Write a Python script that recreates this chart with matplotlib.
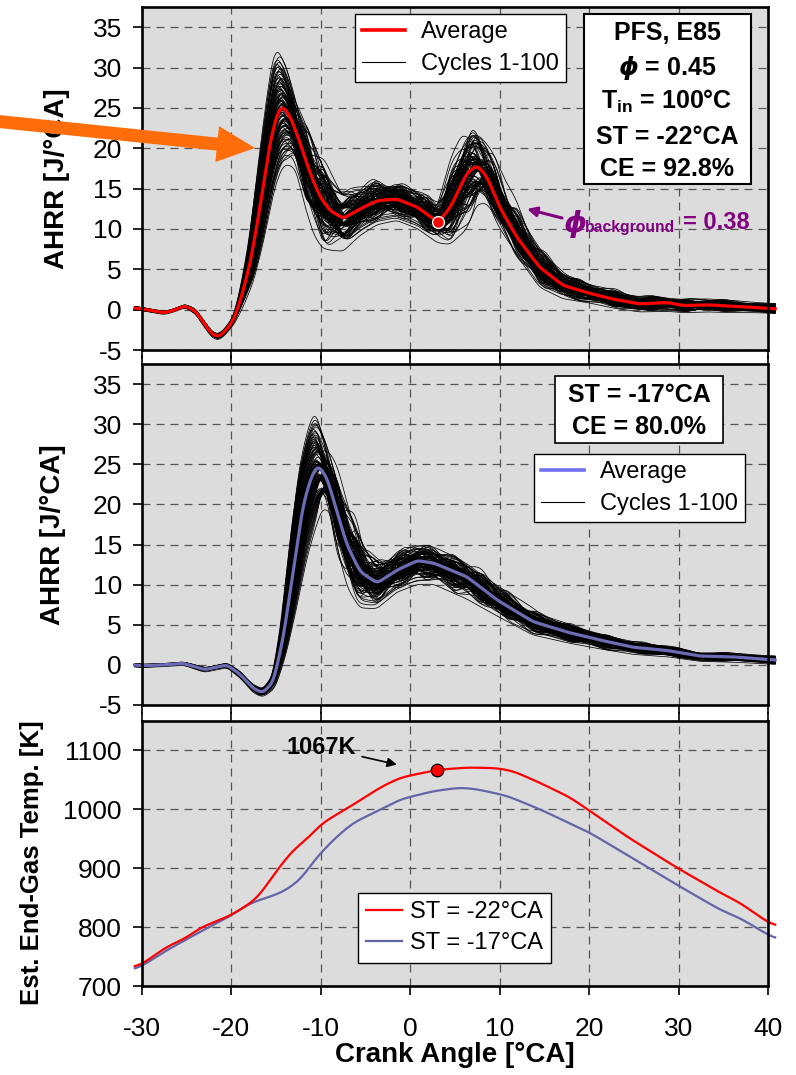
import numpy as np
import matplotlib
matplotlib.use('Agg')
import matplotlib.pyplot as plt
from matplotlib.patches import FancyArrow, Rectangle
from matplotlib.lines import Line2D
from matplotlib.transforms import IdentityTransform

plt.rcParams['font.family'] = ['Liberation Sans', 'DejaVu Sans']
plt.rcParams['axes.unicode_minus'] = False
plt.rcParams['mathtext.fontset'] = 'custom'
plt.rcParams['mathtext.rm'] = 'Liberation Sans:bold'
plt.rcParams['mathtext.bf'] = 'Liberation Sans:bold'
plt.rcParams['mathtext.sf'] = 'Liberation Sans:bold'
plt.rcParams['mathtext.it'] = 'DejaVu Sans:italic:bold'

# ---------------- data: panel 1 (ST = -22 CA) ----------------
crank1 = [-30.8, -30, -28.5, -27.6, -26.5, -25.2, -24.0, -23.0, -22.2, -21.5, -20.8, -19.8,
          -19.0, -17.9, -16.8, -15.7, -14.9, -14.3, -13.4, -12.3, -11.2, -10.1, -9.0, -7.5,
          -5.6, -3.7, -1.5, 0.8, 3.1, 4.5, 6.3, 7.5, 8.6, 10.0, 11.9, 14.5, 17.1, 19.8,
          22.7, 25.7, 28.7, 30.5, 33.2, 36.1, 38.0, 40.8]
avg1 = [0.2, 0.1, -0.2, -0.4, -0.1, 0.5, -0.2, -1.8, -3.0, -3.4, -2.8, -1.4,
        1.1, 5.7, 12.7, 20.6, 24.3, 25.3, 23.9, 20.6, 16.9, 14.0, 12.3, 11.3,
        12.5, 13.5, 13.7, 12.7, 10.8, 12.7, 16.9, 17.9, 16.4, 12.7, 9.0, 5.2, 3.0, 2.1,
        1.3, 0.7, 0.9, 0.5, 0.6, 0.4, 0.3, 0.1]
hi1 = [0.4, 0.3, 0.0, -0.2, 0.1, 0.7, 0.1, -1.4, -2.6, -3.0, -2.4, -0.9,
       2.1, 8.0, 16.5, 25.5, 31.0, 32.0, 30.0, 27.0, 23.5, 21.0, 18.0, 14.8,
       15.8, 16.5, 16.0, 15.2, 13.5, 18.0, 23.0, 23.0, 21.0, 17.0, 13.0, 7.8, 5.0, 3.5,
       2.6, 1.8, 1.8, 1.4, 1.4, 1.2, 1.0, 0.8]
lo1 = [0.0, -0.1, -0.4, -0.6, -0.3, 0.3, -0.5, -2.2, -3.4, -3.8, -3.2, -1.9,
       0.1, 3.6, 9.0, 15.5, 18.3, 18.7, 18.0, 13.5, 10.0, 8.2, 7.8, 7.6,
       9.5, 10.8, 11.3, 10.3, 8.5, 8.5, 10.5, 13.5, 13.5, 11.0, 7.0, 3.0, 1.5, 1.0,
       0.3, -0.2, -0.1, -0.3, -0.2, -0.3, -0.3, -0.4]

# ---------------- data: panel 2 (ST = -17 CA) ----------------
crank2 = [-30.8, -30, -27.5, -25.4, -23.0, -20.5, -19.0, -17.6, -16.5, -15.3, -14.2, -13.1,
          -12.0, -11.0, -10.3, -9.3, -8.2, -7.1, -5.6, -3.7, -1.5, 0.8, 2.6, 6.3, 9.7,
          13.7, 17.5, 21.2, 24.9, 28.7, 32.4, 36.1, 39.7, 40.8]
avg2 = [0.0, -0.1, 0.0, 0.2, -0.6, 0.0, -1.2, -2.9, -3.5, -2.1, 3.4, 11.6,
        19.9, 23.7, 24.9, 23.3, 19.1, 15.0, 11.6, 10.2, 11.8, 13.0, 12.7, 11.0, 8.1,
        5.4, 4.1, 3.1, 2.2, 1.8, 1.1, 1.0, 0.7, 0.6]
hi2 = [0.2, 0.1, 0.2, 0.4, -0.3, 0.3, -0.8, -2.4, -3.0, -1.3, 5.5, 16.0,
       25.0, 29.5, 31.3, 29.5, 25.5, 21.5, 16.5, 13.5, 14.5, 15.3, 15.0, 13.2, 10.2,
       6.9, 5.3, 4.1, 3.0, 2.5, 1.7, 1.5, 1.2, 1.1]
lo2 = [-0.2, -0.3, -0.2, 0.0, -0.9, -0.3, -1.6, -3.4, -4.0, -2.9, 1.5, 7.5,
       14.0, 18.0, 20.0, 19.5, 14.0, 10.0, 7.5, 7.3, 9.3, 10.3, 10.3, 8.5, 6.3,
       3.9, 2.9, 2.1, 1.4, 1.1, 0.5, 0.4, 0.2, 0.1]

# ---------------- data: panel 3 (end-gas temperature) ----------------
crank_t22 = [-30.8, -30.0, -27.2, -25.0, -23.5, -20.2, -17.6, -16.8, -14.9, -13.1, -11.2, -10.1,
             -8.6, -6.7, -4.8, -3.4, -1.1, 3.0, 6.3, 9.7, 11.5, 14.5, 17.9, 20.1, 24.2,
             29.8, 34.7, 36.9, 39.9, 40.8]
temp_t22 = [732, 737, 767, 782, 799, 819, 843, 855, 897, 931, 954, 974,
            988, 1005, 1023, 1037, 1054, 1067, 1071, 1070, 1065, 1045, 1020, 997, 954,
            901, 858, 841, 809, 802]
crank_t17 = [-30.8, -30.0, -27.2, -23.5, -20.2, -17.9, -16.0, -14.2, -12.3, -10.4, -8.2, -6.4,
             -3.7, -1.1, 2.6, 5.6, 7.5, 10.8, 14.5, 20.1, 24.2, 29.8, 34.7, 36.9, 39.9, 40.8]
temp_t17 = [728, 734, 761, 792, 818, 841, 850, 860, 880, 920, 954, 977,
            997, 1017, 1031, 1037, 1034, 1023, 1000, 960, 923, 872, 829, 815, 788, 780]

# highlighted points
dot_ahrr = (3.1, 10.8)
dot_temp = (3.0, 1067)

# cycle-to-cycle spread: fraction of the read envelope taken by each cycle
spread_vals = [-1.0, -0.68, -0.45, -0.27, -0.1, 0.05, 0.2, 0.38, 0.62, 0.95]
# control angles where each cycle's fraction is set (same group -> same fraction)
ctrl1 = [-30.8, -24, -20, -17.5, -15.5, -13.5, -11.5, -9.5, -7, -4, -1, 2, 4.5, 7, 9.5,
         12, 15, 19, 23, 27, 31, 35, 40.8]
group1 = [0, 1, 2, 3, 3, 3, 4, 5, 6, 7, 8, 9, 10, 11, 12, 13, 14, 15, 16, 17, 18, 19, 20]
lead1 = [0, 0, 0, -0.35, -0.45, -0.6, -0.5, -0.2, 0, 0, 0, 0, 0, 0, 0, 0, 0, 0, 0, 0, 0, 0, 0]
jitter1 = [0, 0, 0, 0.15, 0.2, 0.3, 0.45, 0.3, 0.2, 0.2, 0.2, 0.4, 0.6, 0.6, 0.6, 0.5, 0.4,
           0.4, 0.4, 0.4, 0.4, 0.4, 0.2]
ctrl2 = [-30.8, -24, -19, -16.5, -14, -12, -10.3, -8.2, -6, -3.7, -1, 2, 5, 8, 11, 14, 18,
         22, 26, 30, 35, 40.8]
group2 = [0, 1, 2, 3, 4, 4, 4, 5, 6, 7, 8, 9, 10, 11, 12, 13, 14, 15, 16, 17, 18, 19]
lead2 = [0, 0, 0, 0, -0.3, -0.4, -0.5, -0.3, 0, 0, 0, 0, 0, 0, 0, 0, 0, 0, 0, 0, 0, 0]
jitter2 = [0, 0, 0, 0.1, 0.15, 0.2, 0.3, 0.45, 0.35, 0.25, 0.3, 0.4, 0.5, 0.5, 0.5, 0.5, 0.5,
           0.4, 0.4, 0.4, 0.4, 0.2]

C_AVG1 = '#ff0000'
C_AVG2 = '#6c6cb4'
C_AVG2_LEG = '#7070f2'
C_T17 = '#6464a8'
PURPLE = '#800080'
BG = '#dcdcdc'

xf = np.linspace(-30.8, 40.8, 1500)
MULT = [1, 3, 7, 9]


def smooth(xn, yn, sigma=0.28):
    yf = np.interp(xf, xn, yn)
    dx = xf[1] - xf[0]
    n = int(3 * sigma / dx)
    k = np.exp(-0.5 * (np.arange(-n, n + 1) * dx / sigma) ** 2)
    k /= k.sum()
    return np.convolve(np.pad(yf, n, mode='edge'), k, mode='valid')


def pick(g, i, salt):
    m = MULT[(g + salt) % 4]
    return spread_vals[(m * i + (g * 3 + salt) * (i // 10) + g * 7 + salt) % 10]


def make_cycles(xn, avg, hi, lo, ctrl, group, lead, jitter):
    base = smooth(xn, avg)
    up = smooth(xn, np.array(hi) - np.array(avg))
    dn = smooth(xn, np.array(avg) - np.array(lo))
    cycles = []
    for i in range(100):
        Fc = [0.85 * pick(g, i, 0) + 0.25 * pick(g, i, 5) for g in group]
        Sc = [lead[k] * Fc[k] + jitter[k] * pick(group[k], i, 2) for k in range(len(ctrl))]
        F = smooth(ctrl, Fc, 0.45)
        S = smooth(ctrl, Sc, 0.5)
        xs = xf - S
        b = np.interp(xs, xf, base)
        y = b + np.where(F >= 0, F * np.interp(xs, xf, up), F * np.interp(xs, xf, dn))
        cycles.append(y)
    return base, cycles


fig = plt.figure(figsize=(7.96, 10.75), dpi=100)
W, H = 796.0, 1075.0
L, R = 142.0, 768.0
ax1 = fig.add_axes([L / W, 1 - 350 / H, (R - L) / W, 343 / H])
ax2 = fig.add_axes([L / W, 1 - 705 / H, (R - L) / W, 341 / H])
ax3 = fig.add_axes([L / W, 1 - 986 / H, (R - L) / W, 265 / H])

for ax in (ax1, ax2, ax3):
    ax.set_facecolor(BG)
    ax.set_xlim(-30, 40)
    ax.set_xticks(np.arange(-30, 41, 10))
    ax.grid(True, linestyle=(0, (6.4, 4.8)), color='#555555', lw=0.9)
    ax.set_axisbelow(True)
    for s in ax.spines.values():
        s.set_linewidth(1.9)
        s.set_zorder(10)
    ax.tick_params(axis='both', direction='out', length=6.5, width=1.2,
                   labelsize=19, colors='black')
    ax.tick_params(axis='y', pad=8)
    ax.tick_params(axis='x', pad=16)

ax1.tick_params(axis='x', top=False, bottom=True, labelbottom=False)
ax2.tick_params(axis='x', top=True, bottom=True, labelbottom=False)
ax3.tick_params(axis='x', top=True, bottom=True)


def ax_frac(px, py, top, bottom):
    return ((px - L) / (R - L), (bottom - py) / (bottom - top))


# ---------- panel 1 ----------
base1, cyc1 = make_cycles(crank1, avg1, hi1, lo1, ctrl1, group1, lead1, jitter1)
for y in cyc1:
    ax1.plot(xf, y, color='black', lw=0.55, clip_on=False, zorder=3)
ax1.plot(xf, base1, color=C_AVG1, lw=2.3, clip_on=False, zorder=4)
ax1.plot([dot_ahrr[0]], [dot_ahrr[1]], 'o', ms=8.5, mfc='#ff0000', mec='white',
         mew=1.0, zorder=6)
ax1.set_ylim(-5, 37.5)
ax1.set_yticks(np.arange(-5, 36, 5))
ax1.set_ylabel('AHRR [J/°CA]', fontsize=20, fontweight='bold')
ax1.yaxis.set_label_coords(-0.115, 0.5)

h1 = [Line2D([], [], color=C_AVG1, lw=2.6), Line2D([], [], color='black', lw=0.8)]
leg1 = ax1.legend(h1, ['Average', 'Cycles 1-100'], loc='upper left',
                  bbox_to_anchor=((355 - L) / (R - L), (350 - 14) / 343),
                  borderaxespad=0, fontsize=17, frameon=True, fancybox=False,
                  framealpha=1, edgecolor='black', handlelength=1.8,
                  handletextpad=0.7, labelspacing=0.42, borderpad=0.3)
leg1.get_frame().set_linewidth(1.0)
leg1.set_zorder(12)

x0, y0 = ax_frac(584, 184, 7, 350)
x1_, y1_ = ax_frac(751, 14, 7, 350)
ax1.add_patch(Rectangle((x0, y0), x1_ - x0, y1_ - y0, transform=ax1.transAxes,
                        fc='white', ec='black', lw=1.5, zorder=12))
box1_lines = ['PFS, E85', r'$\phi$ = 0.45', r'T$_{\mathrm{in}}$ = 100°C',
              'ST = -22°CA', 'CE = 92.8%']
for txt, py in zip(box1_lines, [33, 68, 101, 137, 169]):
    tx, ty = ax_frac(667, py, 7, 350)
    ax1.text(tx, ty, txt, transform=ax1.transAxes, ha='center', va='center',
             fontsize=18, fontweight='bold', zorder=13)

# phi_background annotation
tx, ty = ax_frac(564, 224, 7, 350)
ax1.text(tx, ty, 'ϕ', transform=ax1.transAxes, fontfamily='DejaVu Sans', style='italic',
         fontweight='bold', fontsize=21, color=PURPLE, ha='left', va='center', zorder=8)
tx, ty = ax_frac(585, 232, 7, 350)
ax1.text(tx, ty, 'background', transform=ax1.transAxes, fontweight='bold', fontsize=11.3,
         color=PURPLE, ha='left', va='baseline', zorder=8)
tx, ty = ax_frac(683, 229, 7, 350)
ax1.text(tx, ty, '= 0.38', transform=ax1.transAxes, fontweight='bold', fontsize=17,
         color=PURPLE, ha='left', va='baseline', zorder=8)
ax1.annotate('', xy=ax_frac(527, 209, 7, 350), xycoords='axes fraction',
             xytext=ax_frac(562, 218, 7, 350), textcoords='axes fraction',
             arrowprops=dict(arrowstyle='-|>', color=PURPLE, lw=2.2,
                             mutation_scale=14, shrinkA=0, shrinkB=0), zorder=8)

# orange arrow (figure pixel coordinates)
arrow = FancyArrow(-6, H - 121, 261, -27, width=13, head_width=36, head_length=38,
                   length_includes_head=True, color='#ff6c0a', lw=0,
                   transform=IdentityTransform())
fig.add_artist(arrow)

# ---------- panel 2 ----------
base2, cyc2 = make_cycles(crank2, avg2, hi2, lo2, ctrl2, group2, lead2, jitter2)
for y in cyc2:
    ax2.plot(xf, y, color='black', lw=0.55, clip_on=False, zorder=3)
ax2.plot(xf, base2, color=C_AVG2, lw=2.3, clip_on=False, zorder=4)
ax2.set_ylim(-5, 37.5)
ax2.set_yticks(np.arange(-5, 36, 5))
ax2.set_ylabel('AHRR [J/°CA]', fontsize=20, fontweight='bold')
ax2.yaxis.set_label_coords(-0.121, 0.5)

h2 = [Line2D([], [], color=C_AVG2_LEG, lw=2.6), Line2D([], [], color='black', lw=0.8)]
leg2 = ax2.legend(h2, ['Average', 'Cycles 1-100'], loc='upper left',
                  bbox_to_anchor=((534 - L) / (R - L), (705 - 454) / 341),
                  borderaxespad=0, fontsize=17, frameon=True, fancybox=False,
                  framealpha=1, edgecolor='black', handlelength=1.8,
                  handletextpad=0.7, labelspacing=0.42, borderpad=0.3)
leg2.get_frame().set_linewidth(1.0)
leg2.set_zorder(12)

x0, y0 = ax_frac(555, 443, 364, 705)
x1_, y1_ = ax_frac(723, 376, 364, 705)
ax2.add_patch(Rectangle((x0, y0), x1_ - x0, y1_ - y0, transform=ax2.transAxes,
                        fc='white', ec='black', lw=1.2, zorder=12))
for txt, py in zip(['ST = -17°CA', 'CE = 80.0%'], [395, 427]):
    tx, ty = ax_frac(639, py, 364, 705)
    ax2.text(tx, ty, txt, transform=ax2.transAxes, ha='center', va='center',
             fontsize=18, fontweight='bold', zorder=13)

# ---------- panel 3 ----------
ax3.plot(xf, smooth(crank_t22, temp_t22, 0.7), color='#ff0000', lw=1.6, clip_on=False,
         zorder=4, label='ST = -22°CA')
ax3.plot(xf, smooth(crank_t17, temp_t17, 0.7), color=C_T17, lw=1.6, clip_on=False,
         zorder=3, label='ST = -17°CA')
ax3.plot([dot_temp[0]], [dot_temp[1]], 'o', ms=9, mfc='#ff0000', mec='black',
         mew=0.9, zorder=6)
ax3.set_ylim(700, 1150)
ax3.set_yticks(np.arange(700, 1101, 100))
ax3.set_ylabel('Est. End-Gas Temp. [K]', fontsize=18.5, fontweight='bold')
ax3.yaxis.set_label_coords(-0.157, 0.464)
ax3.set_xlabel('Crank Angle [°CA]', fontsize=20, fontweight='bold')
ax3.xaxis.set_label_coords(0.5, -0.21)
leg3 = ax3.legend(loc='upper left', bbox_to_anchor=((358 - L) / (R - L), (986 - 893) / 265),
                  borderaxespad=0, fontsize=17, frameon=True, fancybox=False,
                  framealpha=1, edgecolor='black', handlelength=1.5,
                  handletextpad=0.35, labelspacing=0.38, borderpad=0.35)
leg3.get_frame().set_linewidth(1.0)

ax3.annotate('1067K', xy=(-1.5, 1076), xytext=(-9.9, 1105), fontsize=17,
             fontweight='bold', ha='center', va='center',
             arrowprops=dict(arrowstyle='-|>', color='black', lw=1.2,
                             mutation_scale=14, shrinkA=2, shrinkB=0))

fig.savefig('out.png', dpi=100, facecolor='white')
